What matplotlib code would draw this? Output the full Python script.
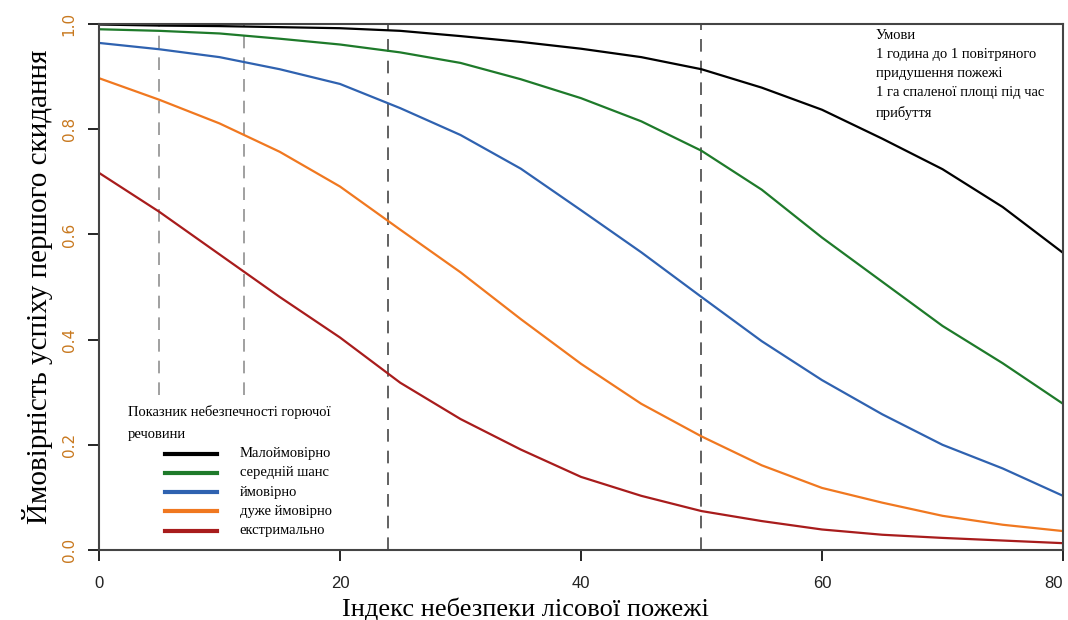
import matplotlib
matplotlib.use("Agg")
import matplotlib.pyplot as plt

# fire danger index (x) and probability of first-drop success per fuel hazard class
fwi = [0, 5, 10, 15, 20, 25, 30, 35, 40, 45, 50, 55, 60, 65, 70, 75, 80]
p_unlikely = [0.999, 0.997, 0.996, 0.994, 0.992, 0.987, 0.977, 0.966, 0.953, 0.937,
              0.914, 0.879, 0.837, 0.782, 0.724, 0.652, 0.565]
p_medium = [0.990, 0.987, 0.982, 0.972, 0.961, 0.946, 0.926, 0.895, 0.859, 0.815,
            0.759, 0.685, 0.594, 0.510, 0.426, 0.355, 0.278]
p_likely = [0.964, 0.952, 0.937, 0.914, 0.886, 0.840, 0.789, 0.725, 0.646, 0.566,
            0.481, 0.397, 0.323, 0.258, 0.200, 0.155, 0.103]
p_very = [0.897, 0.856, 0.811, 0.757, 0.691, 0.609, 0.528, 0.439, 0.354, 0.278,
          0.216, 0.161, 0.118, 0.090, 0.065, 0.048, 0.036]
p_extreme = [0.717, 0.643, 0.562, 0.481, 0.404, 0.318, 0.249, 0.191, 0.139, 0.103,
             0.074, 0.055, 0.039, 0.029, 0.023, 0.018, 0.013]

labels = ['Малоймовірно', 'середній шанс', 'ймовірно', 'дуже ймовірно', 'екстримально']
colors = ['#000000', '#1e7a2a', '#2f62b0', '#f07820', '#a81c1c']
series = [p_unlikely, p_medium, p_likely, p_very, p_extreme]

short_lines = [5, 12]
long_lines = [24, 50]

plt.rcParams['font.family'] = ['Liberation Serif', 'DejaVu Serif']

fig = plt.figure(figsize=(10.68, 6.2), dpi=100)
ax = fig.add_axes([0.0927, 0.1129, 0.9026, 0.8484])

for xv in short_lines:
    ax.plot([xv, xv], [0.295, 1.0], color='#999999', lw=1.3, dashes=(7, 5))
for xv in long_lines:
    ax.plot([xv, xv], [0, 1.0], color='#555555', lw=1.3, dashes=(7, 5))

for vals, c in zip(series, colors):
    ax.plot(fwi, vals, color=c, lw=1.6)

ax.set_xlim(0, 80)
ax.set_ylim(0, 1.0)
ax.set_xticks([0, 20, 40, 60, 80])
ax.set_yticks([0.0, 0.2, 0.4, 0.6, 0.8, 1.0])
ax.set_yticklabels(['0.0', '0.2', '0.4', '0.6', '0.8', '1.0'], rotation=90, va='center',
                   color='#c8781e', family='DejaVu Sans', fontsize=11)
ax.set_xticklabels(['0', '20', '40', '60', '80'], family='Liberation Sans',
                   fontsize=12, color='#222222')
ax.get_xticklabels()[-1].set_ha('right')
ax.tick_params(axis='x', direction='out', length=8, pad=11, width=1.2)
ax.tick_params(axis='y', direction='out', length=8, pad=8, width=1.2)
for s in ax.spines.values():
    s.set_color('#444444')
    s.set_linewidth(1.5)

ax.set_xlabel('Індекс небезпеки лісової пожежі', fontsize=19, labelpad=2)
ax.xaxis.set_label_coords(0.442, -0.09)
ax.set_ylabel('Ймовірність успіху першого скидання', fontsize=21, labelpad=6)

# legend drawn by hand in axes coordinates
ax.text(0.03, 0.276, 'Показник небезпечності горючої\nречовини', transform=ax.transAxes,
        fontsize=10.5, va='top', ha='left', linespacing=1.9)
for i, (lab, c) in enumerate(zip(labels, colors)):
    yy = 0.183 - i * 0.0365
    ax.plot([0.068, 0.122], [yy, yy], transform=ax.transAxes, color=c, lw=3)
    ax.text(0.146, yy, lab, transform=ax.transAxes, fontsize=10.5, va='center', ha='left')

ax.text(0.806, 0.99, 'Умови\n1 година до 1 повітряного\nпридушення пожежі\n'
        '1 га спаленої площі під час\nприбуття', transform=ax.transAxes,
        fontsize=10.5, va='top', ha='left', linespacing=1.6)

plt.savefig('out.png', dpi=100)
